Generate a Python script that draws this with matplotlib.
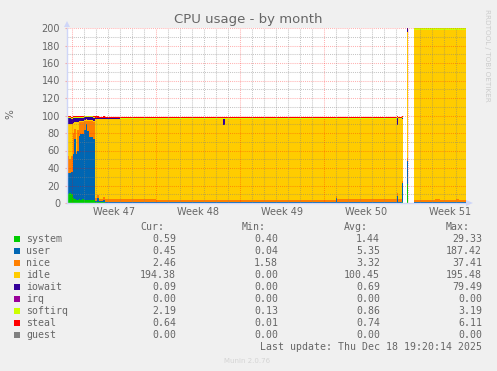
import numpy as np
import matplotlib
matplotlib.use('Agg')
import matplotlib.pyplot as plt
from matplotlib.patches import Rectangle, Polygon

W, H = 497, 371

# time axis in days from Monday of week 47; NaN rows are gaps with no data
seg_start = [-0.44, -0.28, -0.11, 0.06, 0.14, 0.27, 0.31, 0.39, 0.52, 0.64,
             0.81, 0.98, 1.14, 1.27, 1.39, 1.56, 1.73, 1.89, 2.06, 2.23,
             2.56, 2.73, 4.0, 7.0, 12.6, 12.75, 18.0, 22.0, 22.12, 27.08,
             27.2, 27.5, 27.58, 27.91, 28.0, 28.5, 28.9, 28.97, 30.3, 30.7,
             32.0, 32.3]
seg_end = 32.86

nan = np.nan
system = [10, 11, 10, 6, 5, 5, 4, 4, 5, 4,
          5, 4, 4, 4, 3, 4, 4, 1.0, 0.8, 0.6,
          0.6, 0.5, 0.5, 0.5, 0.5, 0.5, 0.5, 0.5, 0.5, 0.5,
          0.5, 1.0, nan, 22, nan, 0.4, 0.4, 0.4, 0.4, 0.4,
          0.4, 0.4]
user = [24, 23, 25, 50, 68, 64, 52, 55, 72, 75,
        74, 80, 86, 78, 72, 71, 69, 1.5, 5.0, 1.5,
        3.0, 1.2, 1.1, 1.1, 1.1, 1.1, 1.1, 5.0, 1.1, 8.0,
        1.2, 22.0, nan, 26, nan, 0.8, 40, 0.7, 0.7, 0.7,
        0.7, 0.6]
nice = [20, 16, 19, 24, 12, 18, 2, 25, 16, 14,
        14, 10, 4, 12, 19, 19, 20, 3.5, 3.0, 3.0,
        3.0, 2.8, 2.6, 2.4, 2.4, 2.4, 2.4, 2.4, 2.5, 2.4,
        2.4, 2.3, nan, 3, nan, 2.5, 2.5, 2.8, 3.8, 2.5,
        3.5, 2.46]
idle = [36, 40, 36, 12, 8, 6, 35, 9, 1, 1,
        1, 1, 1.5, 1, 1, 1, 1, 89.8, 87.0, 90.5,
        89.3, 91.5, 91.9, 92.2, 85.5, 92.2, 91.9, 87.9, 91.8, 78.5,
        91.7, 70.8, nan, 145, nan, 193.6, 154.2, 193.4, 192.5, 193.8,
        192.8, 194.0]
iowait = [7, 7, 6, 5, 4, 4, 4, 4, 3, 3,
          3, 3, 2.5, 3, 3, 3, 3, 1.2, 1.2, 1.0,
          1.0, 0.6, 0.4, 0.3, 7.0, 0.3, 0.6, 0.6, 0.6, 8.0,
          0.6, 1.2, nan, 4, nan, 0.4, 0.4, 0.5, 0.4, 0.4,
          0.4, 0.09]
irq = [0] * 32 + [nan, 0, nan] + [0] * 7
softirq = [1, 1, 1.5, 1.5, 1.5, 1.5, 1.5, 1.5, 1, 1,
           1, 1, 1, 1, 1, 1, 1, 0.6, 0.6, 0.4,
           0.4, 0.3, 0.3, 0.3, 0.3, 0.3, 0.6, 0.6, 0.6, 0.6,
           0.6, 0.6, nan, 0.5, nan, 2.0, 2.0, 2.0, 2.0, 2.0,
           2.1, 2.19]
steal = [1, 1, 1, 1, 1, 1, 1, 1, 1, 1,
         1, 1, 1, 1, 1, 1, 1, 1.5, 1.5, 1.6,
         1.6, 1.7, 1.7, 1.7, 1.7, 1.7, 1.4, 1.4, 1.4, 1.4,
         1.4, 1.4, nan, 0.5, nan, 0.6, 0.6, 0.6, 0.6, 0.6,
         0.6, 0.64]
guest = [0] * 32 + [nan, 0, nan] + [0] * 7

names = ['system', 'user', 'nice', 'idle', 'iowait', 'irq', 'softirq', 'steal', 'guest']
colors = ['#00CC00', '#0066B3', '#FF8000', '#FFCC00', '#330099',
          '#990099', '#CCFF00', '#FF0000', '#808080']
cur_vals = [0.59, 0.45, 2.46, 194.38, 0.09, 0.00, 2.19, 0.64, 0.00]
min_vals = [0.40, 0.04, 1.58, 0.00, 0.00, 0.00, 0.13, 0.01, 0.00]
avg_vals = [1.44, 5.35, 3.32, 100.45, 0.69, 0.00, 0.86, 0.74, 0.00]
max_vals = [29.33, 187.42, 37.41, 195.48, 79.49, 0.00, 3.19, 6.11, 0.00]

week_starts = [0, 7, 14, 21, 28]
week_labels = ['Week 47', 'Week 48', 'Week 49', 'Week 50', 'Week 51']

FONT = '#666666'
AXIS = '#CFD6F8'
GRID = (0.5, 0.5, 0.5, 0.45)
MGRID = (1.0, 0.0, 0.0, 0.3)

fig = plt.figure(figsize=(W / 100, H / 100), dpi=100, facecolor='#F0F0F0')
ax = fig.add_axes([67 / W, 1 - 203 / H, (466 - 67) / W, (203 - 28) / H])
ax.set_facecolor('white')
ax.set_xlim(-0.44, seg_end)
ax.set_ylim(0, 200)

# stacked areas, drawn per contiguous run of samples
edges = np.append(seg_start, seg_end)
data = np.array([system, user, nice, idle, iowait, irq, softirq, steal, guest], dtype=float)
n = len(seg_start)
ok = ~np.isnan(data[0])
runs = []
i = 0
while i < n:
    if ok[i]:
        j = i
        while j < n and ok[j]:
            j += 1
        runs.append((i, j))
        i = j
    else:
        i += 1

base = np.zeros(n)
for vals, col in zip(data, colors):
    top = base + vals
    for a, b in runs:
        xs = edges[a:b + 1]
        lo = np.append(base[a:b], base[b - 1])
        hi = np.append(top[a:b], top[b - 1])
        ax.fill_between(xs, lo, hi, step='post', color=col, lw=0, zorder=1)
    base = top

# grid drawn over the data, like rrdtool
for y in range(10, 201, 10):
    ax.axhline(y, color=MGRID if y % 20 == 0 else GRID, lw=0.75,
               ls=(0, (1, 1)), zorder=2)
for d in range(0, 33):
    ax.axvline(d, color=MGRID if d in week_starts else GRID, lw=0.75,
               ls=(0, (1, 1)), zorder=2)

ax.set_yticks(range(0, 201, 20))
ax.tick_params(axis='y', length=1.5, color=MGRID, pad=3.5, labelsize=7, labelcolor=FONT)
ax.set_xticks([w + 3.5 for w in week_starts], week_labels)
ax.tick_params(axis='x', length=0, pad=3, labelsize=7, labelcolor=FONT)
for s in ['top', 'right']:
    ax.spines[s].set_visible(False)
for s in ['left', 'bottom']:
    ax.spines[s].set_color(AXIS)
    ax.spines[s].set_linewidth(1)
    ax.spines[s].set_zorder(3)

# axis arrows
fig.add_artist(Polygon([[64 / W, 1 - 27 / H], [70 / W, 1 - 27 / H], [67 / W, 1 - 21 / H]],
                       closed=True, transform=fig.transFigure, color=AXIS, lw=0))
fig.add_artist(Polygon([[466 / W, 1 - 200 / H], [466 / W, 1 - 206 / H], [473 / W, 1 - 203 / H]],
                       closed=True, transform=fig.transFigure, color=AXIS, lw=0))

fig.text(248 / W, 1 - 19 / H, 'CPU usage - by month', ha='center', va='center',
         fontsize=9.5, color=FONT)
fig.text(10 / W, 1 - 114 / H, '%', rotation=90, ha='center', va='center',
         fontsize=7.5, color=FONT)
fig.text(487 / W, 1 - 55 / H, 'RRDTOOL / TOBI OETIKER', rotation=270, ha='center',
         va='center', fontsize=5.2, color='#CCCCCC')

# legend block
mono = dict(family='DejaVu Sans Mono', fontsize=7.1, color=FONT, va='center')
col_right = [176, 278, 380, 482]
for x, head in zip(col_right, ['Cur:', 'Min:', 'Avg:', 'Max:']):
    fig.text((x - 12) / W, 1 - 227 / H, head, ha='right', **mono)
for k, name in enumerate(names):
    yc = 239.3 + 12 * k
    fig.add_artist(Rectangle((14 / W, 1 - (yc + 3) / H), 6 / W, 6 / H,
                             transform=fig.transFigure, color=colors[k], lw=0))
    fig.text(26 / W, 1 - yc / H, name, ha='left', **mono)
    for x, vals in zip(col_right, [cur_vals, min_vals, avg_vals, max_vals]):
        fig.text(x / W, 1 - yc / H, f'{vals[k]:.2f}', ha='right', **mono)
fig.text(482 / W, 1 - 347.3 / H, 'Last update: Thu Dec 18 19:20:14 2025', ha='right', **mono)
fig.text(247 / W, 1 - 361 / H, 'Munin 2.0.76', ha='center', va='center',
         fontsize=5, color='#D4D4D4')

fig.savefig('out.png', dpi=100, facecolor=fig.get_facecolor())
